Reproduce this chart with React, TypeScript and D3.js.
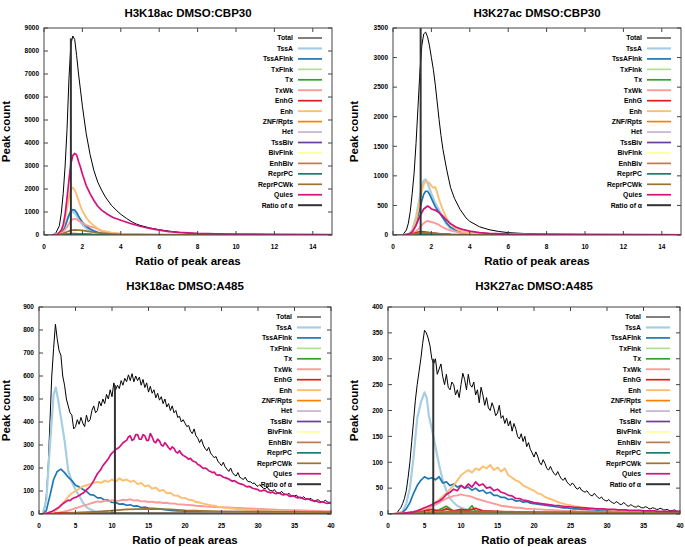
import React from "react";
import * as d3 from "d3";

type Pt = [number, number];

const seriesNames = ["Total", "TssA", "TssAFlnk", "TxFlnk", "Tx", "TxWk", "EnhG", "Enh", "ZNF/Rpts", "Het", "TssBiv", "BivFlnk", "EnhBiv", "ReprPC", "ReprPCWk", "Quies", "Ratio of  \u03b1"];
const seriesColors = ["#000000", "#a6cee3", "#1f78b4", "#b2df8a", "#33a02c", "#fb9a99", "#e31a1c", "#fdbf6f", "#ff7f00", "#cab2d6", "#6a3d9a", "#ffff99", "#c0784e", "#1b7b6e", "#9c7233", "#d4127f", "#333333"];
const seriesWidths = [1, 2.2, 1.7, 1.7, 1.7, 1.9, 1.7, 1.9, 1.7, 1.7, 1.7, 1.7, 1.7, 1.7, 1.7, 1.7, 2];

const panelTitles = ["H3K18ac DMSO:CBP30", "H3K27ac DMSO:CBP30", "H3K18ac DMSO:A485", "H3K27ac DMSO:A485"];
const xLabel = "Ratio of peak areas";
const yLabel = "Peak count";
const xMaxes = [15, 15, 40, 40];
const xTickSteps = [2, 2, 5, 5];
const xTickMax = [14, 14, 40, 40];
const yMaxes = [9000, 3500, 900, 400];
const yTickSteps = [1000, 500, 100, 50];
// Ratio of alpha vertical line: [x, height]
const alphaLines: Pt[] = [[1.4, 8550], [1.44, 3500], [10.4, 560], [6.2, 300]];
const bottomStep = 0.5;
const fineStep = 0.25;

// ---------- Panel 1: H3K18ac DMSO:CBP30 ----------
const p1Total: Pt[] = [[0,0],[0.4,0],[0.6,60],[0.8,400],[0.9,940],[1.0,1800],[1.1,3000],[1.2,4600],[1.3,6800],[1.4,8300],[1.5,8650],[1.6,8500],[1.7,7800],[1.8,7000],[1.9,6300],[2.0,5600],[2.2,4400],[2.4,3500],[2.6,2800],[2.8,2300],[3.0,1950],[3.2,1650],[3.5,1300],[3.8,1050],[4.0,900],[4.3,720],[4.6,560],[4.8,480],[5.0,420],[5.5,310],[6.0,230],[6.5,170],[7.0,120],[7.5,80],[8.0,55],[9,35],[10,25],[12,15],[15,10]];
const p1TssA: Pt[] = [[0.5,0],[0.8,50],[1.0,230],[1.1,420],[1.2,650],[1.3,860],[1.4,980],[1.5,1000],[1.6,960],[1.7,850],[1.8,700],[1.9,560],[2.0,450],[2.2,290],[2.4,190],[2.6,120],[2.8,80],[3.0,50],[3.5,20],[4,8],[15,1]];
const p1TssAFlnk: Pt[] = [[0.5,0],[0.8,40],[1.0,200],[1.1,380],[1.2,620],[1.3,870],[1.4,1050],[1.5,1100],[1.6,1080],[1.7,980],[1.8,820],[1.9,680],[2.0,560],[2.2,380],[2.4,260],[2.6,180],[2.8,120],[3.0,80],[3.5,35],[4,15],[5,5],[15,1]];
const p1TxFlnk: Pt[] = [[0.5,0],[1.2,20],[1.6,30],[2.2,15],[3,5],[15,0]];
const p1Tx: Pt[] = [[0.5,0],[1.2,20],[1.6,35],[2.2,20],[3,8],[15,0]];
const p1TxWk: Pt[] = [[0.5,0],[0.8,30],[1.0,130],[1.2,350],[1.4,620],[1.5,690],[1.6,700],[1.7,680],[1.8,620],[2.0,530],[2.2,430],[2.4,360],[2.6,330],[2.8,250],[3.0,170],[3.5,90],[4,50],[5,20],[6,10],[8,4],[15,1]];
const p1EnhG: Pt[] = [[0.5,0],[1.0,20],[1.4,60],[1.7,55],[2.0,40],[2.5,20],[3,10],[4,3],[15,0]];
const p1Enh: Pt[] = [[0.5,0],[0.8,80],[1.0,350],[1.1,700],[1.2,1150],[1.3,1650],[1.4,2000],[1.5,2050],[1.6,1950],[1.7,1750],[1.8,1500],[1.9,1250],[2.0,1050],[2.2,750],[2.4,550],[2.6,400],[2.8,280],[3.0,200],[3.5,100],[4.0,55],[5,25],[6,12],[8,5],[15,2]];
const p1Znf: Pt[] = [[0.5,0],[1.5,8],[2.5,4],[15,0]];
const p1Het: Pt[] = [[0.5,0],[1.5,15],[2.5,8],[4,3],[15,0]];
const p1TssBiv: Pt[] = [[0.5,0],[1.5,10],[2.5,4],[15,0]];
const p1BivFlnk: Pt[] = [[0.5,0],[1.5,15],[2.5,6],[15,0]];
const p1EnhBiv: Pt[] = [[0.5,0],[1.2,40],[1.6,60],[2.2,30],[3,10],[15,0]];
const p1ReprPC: Pt[] = [[0.5,0],[1.4,30],[1.8,35],[2.5,15],[4,4],[15,0]];
const p1ReprPCWk: Pt[] = [[0.5,0],[0.8,10],[1.0,60],[1.2,140],[1.4,200],[1.6,220],[1.8,215],[2.0,200],[2.3,160],[2.6,120],[3.0,80],[3.5,50],[4,30],[5,15],[6,8],[8,4],[15,1]];
const p1Quies: Pt[] = [[0.4,0],[0.7,30],[0.9,200],[1.0,450],[1.1,900],[1.2,1600],[1.3,2400],[1.4,3100],[1.5,3450],[1.6,3550],[1.7,3480],[1.8,3200],[1.9,2950],[2.0,2650],[2.2,2150],[2.4,1800],[2.6,1500],[2.8,1250],[3.0,1080],[3.3,900],[3.6,760],[4.0,640],[4.5,500],[5.0,380],[5.5,290],[6.0,210],[6.5,150],[7.0,115],[8,70],[9,50],[10,40],[12,30],[15,20]];

// ---------- Panel 2: H3K27ac DMSO:CBP30 ----------
const p2Total: Pt[] = [[0,0],[0.5,0],[0.7,85],[0.8,200],[0.9,400],[1.0,700],[1.1,1050],[1.2,1550],[1.3,2150],[1.4,2750],[1.5,3200],[1.6,3400],[1.7,3430],[1.8,3350],[1.9,3200],[2.0,3000],[2.1,2800],[2.2,2550],[2.3,2250],[2.4,1950],[2.5,1680],[2.6,1450],[2.8,1100],[3.0,800],[3.2,620],[3.5,430],[3.8,290],[4.0,230],[4.5,140],[5.0,90],[5.5,60],[6.0,40],[7,22],[8,14],[10,8],[15,4]];
const p2TssA: Pt[] = [[0.5,0],[0.8,10],[1.0,80],[1.2,300],[1.4,650],[1.5,820],[1.6,920],[1.7,940],[1.8,880],[1.9,790],[2.0,700],[2.2,540],[2.4,420],[2.6,290],[2.8,180],[3.0,110],[3.5,40],[4,15],[5,5],[15,1]];
const p2TssAFlnk: Pt[] = [[0.5,0],[0.8,10],[1.0,50],[1.2,200],[1.4,450],[1.5,580],[1.6,690],[1.7,740],[1.8,740],[1.9,690],[2.0,620],[2.2,480],[2.4,380],[2.6,290],[2.8,200],[3.0,130],[3.3,80],[3.6,50],[4,30],[5,10],[15,1]];
const p2TxFlnk: Pt[] = [[0.5,0],[1.5,10],[2,12],[3,4],[15,0]];
const p2Tx: Pt[] = [[0.5,0],[1.5,15],[2,15],[3,5],[15,0]];
const p2TxWk: Pt[] = [[0.5,0],[1.0,20],[1.2,60],[1.4,130],[1.6,200],[1.8,240],[2.0,220],[2.2,200],[2.4,170],[2.6,130],[2.8,100],[3.0,75],[3.5,40],[4,20],[5,8],[6.5,12],[7,4],[15,1]];
const p2EnhG: Pt[] = [[0.5,0],[1.0,15],[1.4,60],[1.6,55],[2.0,35],[2.5,15],[3,6],[4,2],[15,0]];
const p2Enh: Pt[] = [[0.5,0],[0.8,10],[1.0,60],[1.2,250],[1.4,580],[1.5,750],[1.6,860],[1.7,900],[1.8,900],[1.9,880],[2.0,830],[2.1,800],[2.2,810],[2.3,720],[2.4,600],[2.6,420],[2.8,280],[3.0,180],[3.3,100],[3.6,60],[4,35],[5,12],[6,5],[15,1]];
const p2Znf: Pt[] = [[0.5,0],[1.6,5],[3,2],[15,0]];
const p2Het: Pt[] = [[0.5,0],[1.7,8],[3,3],[15,0]];
const p2TssBiv: Pt[] = [[0.5,0],[1.7,6],[3,2],[15,0]];
const p2BivFlnk: Pt[] = [[0.5,0],[1.7,8],[3,2],[15,0]];
const p2EnhBiv: Pt[] = [[0.5,0],[1.5,25],[2,20],[3,6],[15,0]];
const p2ReprPC: Pt[] = [[0.5,0],[1.6,15],[2.5,8],[4,2],[15,0]];
const p2ReprPCWk: Pt[] = [[0.5,0],[1.0,10],[1.5,40],[2.0,35],[2.5,20],[3,10],[4,4],[15,0]];
const p2Quies: Pt[] = [[0.5,0],[0.8,10],[1.0,50],[1.2,160],[1.4,320],[1.6,440],[1.8,490],[1.9,470],[2.0,440],[2.2,420],[2.4,380],[2.6,320],[2.8,250],[3.0,190],[3.3,130],[3.6,95],[4,65],[4.5,40],[5,28],[6,15],[7,10],[10,6],[15,3]];

// ---------- Panel 3: H3K18ac DMSO:A485 ----------
// every 0.25
const p3Total = [
  0,0,0,20,80,200,400,600,
  720,825,760,710,690,600,560,500,
  470,440,430,370,380,410,390,420,
  395,380,430,400,410,450,470,440,
  450,490,470,500,480,520,500,540,
  510,570,540,560,545,580,560,590,
  575,605,580,610,575,600,580,595,
  560,585,550,570,530,555,525,540,
  505,525,495,510,480,500,465,480,
  450,470,440,450,420,425,400,410,
  395,380,385,360,350,370,340,330,
  310,325,300,285,275,290,265,255,
  245,250,230,220,210,225,205,195,
  185,200,180,170,165,180,160,155,
  150,160,145,140,140,132,135,125,
  120,128,118,112,110,118,105,102,
  100,106,95,92,92,98,88,85,
  85,90,80,78,78,82,74,70,
  70,75,68,65,65,68,60,58,
  60,62,55,52,55,60,52,50,
  52];
const p3Quies = [
  0,0,0,1,3,5,8,11,
  15,20,25,30,38,44,50,55,
  60,58,65,70,72,76,80,86,
  90,96,105,112,120,132,145,160,
  175,185,195,210,220,230,240,255,
  265,272,280,285,290,300,310,315,
  320,335,340,320,325,345,345,325,
  325,345,340,320,320,350,335,315,
  310,325,318,300,295,310,300,288,
  280,292,285,270,265,275,262,255,
  250,245,238,242,232,228,225,215,
  212,205,198,200,196,188,185,180,
  182,172,168,170,166,160,158,155,
  152,146,143,145,140,135,132,130,
  127,122,118,120,117,112,110,108,
  106,100,100,104,102,96,95,92,
  96,90,88,92,90,85,83,86,
  84,78,76,80,77,72,70,73,
  70,65,63,66,64,60,58,55,
  57,52,50,53,52,48,46,48,
  46];
// every 0.5
const p3TssAFlnk = [0,0,15,80,150,185,195,180,160,145, 125,118,108,98,84,82,70,70,60,60, 50,50,43,44,38,40,34,35,28,30, 26,25,24,22,20,18,16,15,14,13, 12,11,10,10,9,8,8,7,7,6, 6,6,5,5,5,5,5,4,4,4, 4,4,4,4,3,3,3,3,3,3, 3,3,3,3,3,3,3,3,3,3, 3];
const p3TxWk = [0,0,0,2,3,5,8,11,15,20, 25,30,35,40,45,50,55,52,58,55, 60,56,58,62,60,64,58,60,55,56, 52,54,50,51,48,49,45,46,42,42, 40,39,38,36,35,34,32,31,30,30, 29,28,28,27,26,26,25,24,24,23, 22,22,21,20,20,19,18,18,17,17, 16,16,15,15,14,14,13,13,12,12, 12];
const p3Enh = [0,0,2,5,10,20,35,55,75,90, 100,110,120,125,130,135,140,135,145,140, 150,140,155,145,150,140,145,130,135,120, 125,110,115,100,105,90,92,80,80,70, 70,62,60,52,50,45,42,38,36,32, 30,28,26,24,22,20,20,18,18,16, 15,14,14,13,12,12,11,10,10,9, 9,8,8,8,7,7,7,6,6,6, 6];
const p3TssA: Pt[] = [[0,0],[0.5,0],[1,60],[1.5,300],[2,520],[2.3,550],[2.6,500],[3,420],[3.5,320],[4,190],[4.5,140],[5,105],[5.5,80],[6,50],[6.5,30],[7,20],[7.5,14],[8,10],[9,6],[10,4],[12,3],[15,2],[20,1],[40,1]];
const p3EnhG: Pt[] = [[0,0],[1,2],[3,5],[6,6],[10,5],[15,4],[20,3],[30,2],[40,1]];
const p3ReprPCWk: Pt[] = [[0,0],[3,0],[5,5],[8,10],[10,15],[12,20],[15,22],[18,20],[20,16],[25,12],[30,10],[35,9],[40,8]];

// ---------- Panel 4: H3K27ac DMSO:A485 ----------
// every 0.25
const p4Total = [
  0,0,0,0,0,2,8,12,
  20,30,45,70,100,140,180,220,
  250,275,300,330,355,350,340,325,
  300,290,300,270,280,290,265,250,
  270,245,240,255,250,230,240,225,
  250,272,260,240,270,250,245,255,
  230,240,215,245,230,210,225,205,
  200,215,205,190,195,210,185,190,
  175,185,170,180,160,175,165,150,
  145,155,140,150,130,138,125,118,
  110,120,112,100,95,105,98,88,
  85,92,84,78,75,82,74,68,
  65,70,62,58,55,60,56,50,
  48,52,46,44,42,45,40,36,
  35,40,36,32,30,33,28,26,
  25,28,24,22,20,24,22,19,
  18,22,20,16,15,18,16,14,
  13,16,14,12,12,14,13,10,
  10,12,11,9,9,11,10,8,
  8,9,7,6,7,8,6,5,
  5];
// every 0.5
const p4TssAFlnk = [0,0,0,1,3,10,22,40,55,65, 72,68,70,66,72,60,62,55,58,52, 55,50,52,46,50,44,46,40,42,36, 36,32,32,28,29,25,26,23,24,21, 20,19,18,17,16,15,14,13,12,12, 11,10,10,9,9,8,8,8,7,7, 6,6,6,6,5,5,5,5,5,5, 4,4,4,4,4,4,3,3,3,3, 3];
const p4TxWk = [0,0,0,0,0,1,2,3,5,6, 8,10,15,18,22,26,30,32,35,36, 38,36,35,33,30,28,26,24,22,20, 18,16,15,14,13,12,12,11,10,10, 10,9,9,8,8,8,7,7,6,6, 6,6,5,5,5,5,5,4,4,4, 4,4,4,4,3,3,3,3,3,3, 3,3,3,2,2,2,2,2,2,2, 2];
const p4Enh = [0,0,0,1,1,2,3,4,6,8, 10,14,18,22,28,34,40,48,55,65, 75,80,85,80,88,85,92,88,95,85, 90,82,88,75,70,65,62,55,52,48, 45,40,38,33,30,28,25,22,20,18, 17,15,14,13,12,11,10,10,9,9, 8,8,7,7,6,6,5,5,5,5, 4,4,4,4,3,3,3,3,3,3, 3];
const p4Quies = [0,0,0,1,1,2,3,4,6,9, 12,15,18,22,25,30,38,42,48,45, 55,50,58,52,62,55,58,50,52,45, 48,42,40,36,35,30,30,27,26,24, 22,21,20,19,18,17,16,16,15,14, 14,13,13,12,12,11,11,10,10,10, 9,9,9,8,8,8,7,7,7,7, 6,6,6,6,5,5,5,5,5,5, 5];
const p4TssA: Pt[] = [[0,0],[1,0],[1.5,2],[2,5],[2.5,20],[3,50],[3.5,110],[4,185],[4.5,215],[5,235],[5.3,225],[5.6,190],[6,165],[6.5,130],[7,95],[7.5,65],[8,45],[8.5,30],[9,22],[9.5,16],[10,12],[11,8],[12,6],[13,4],[15,2],[20,1],[40,0]];
const p4Tx: Pt[] = [[0,0],[5,2],[7,8],[8,15],[9,5],[11,8],[11.5,16],[12,6],[15,4],[20,2],[40,1]];
const p4EnhG: Pt[] = [[0,0],[3,2],[5,6],[6,9],[7,5],[8,10],[9,6],[10,9],[11,7],[12,11],[13,6],[15,5],[20,3],[40,1]];
const p4ReprPCWk: Pt[] = [[0,0],[3,1],[8,3],[15,4],[25,3],[40,2]];

// ---------- tiny series shared by the A485 panels ----------
const lowTxFlnk: Pt[] = [[0,0],[2,1],[10,3],[20,2],[40,1]];
const lowTx: Pt[] = [[0,0],[3,1],[10,4],[20,2],[40,1]];
const lowZnf: Pt[] = [[0,0],[5,1],[15,2],[40,1]];
const lowHet: Pt[] = [[0,0],[5,1],[15,3],[40,2]];
const lowTssBiv: Pt[] = [[0,0],[3,1],[10,2],[40,1]];
const lowBivFlnk: Pt[] = [[0,0],[3,1],[10,2],[40,1]];
const lowEnhBiv: Pt[] = [[0,0],[3,2],[8,5],[15,4],[40,2]];
const lowReprPC: Pt[] = [[0,0],[3,1],[10,3],[40,1]];

const fromSteps = (vals: number[]): Pt[] => vals.map((v, i) => [i * bottomStep, v] as Pt);
const fromFine = (vals: number[]): Pt[] => vals.map((v, i) => [i * fineStep, v] as Pt);

const panelSeries: Pt[][][] = [
  [p1Total, p1TssA, p1TssAFlnk, p1TxFlnk, p1Tx, p1TxWk, p1EnhG, p1Enh, p1Znf, p1Het, p1TssBiv, p1BivFlnk, p1EnhBiv, p1ReprPC, p1ReprPCWk, p1Quies],
  [p2Total, p2TssA, p2TssAFlnk, p2TxFlnk, p2Tx, p2TxWk, p2EnhG, p2Enh, p2Znf, p2Het, p2TssBiv, p2BivFlnk, p2EnhBiv, p2ReprPC, p2ReprPCWk, p2Quies],
  [fromFine(p3Total), p3TssA, fromSteps(p3TssAFlnk), lowTxFlnk, lowTx, fromSteps(p3TxWk), p3EnhG, fromSteps(p3Enh), lowZnf, lowHet, lowTssBiv, lowBivFlnk, lowEnhBiv, lowReprPC, p3ReprPCWk, fromFine(p3Quies)],
  [fromFine(p4Total), p4TssA, fromSteps(p4TssAFlnk), lowTxFlnk, p4Tx, fromSteps(p4TxWk), p4EnhG, fromSteps(p4Enh), lowZnf, lowHet, lowTssBiv, lowBivFlnk, lowEnhBiv, lowReprPC, p4ReprPCWk, fromSteps(p4Quies)],
];

// layout of each panel (pixel frame)
const frames = [
  { left: 44, right: 332, top: 28, bottom: 235, titleY: 17, xLabY: 265, yLabX: 10 },
  { left: 393, right: 681, top: 28, bottom: 235, titleY: 17, xLabY: 265, yLabX: 358 },
  { left: 39, right: 331, top: 307, bottom: 514, titleY: 290, xLabY: 544, yLabX: 10 },
  { left: 388, right: 680, top: 307, bottom: 514, titleY: 290, xLabY: 544, yLabX: 358 },
];

const FONT = "'Liberation Sans', Arial, Helvetica, sans-serif";

function Panel({ idx }: { idx: number }) {
  const f = frames[idx];
  const x = d3.scaleLinear().domain([0, xMaxes[idx]]).range([f.left, f.right]);
  const y = d3.scaleLinear().domain([0, yMaxes[idx]]).range([f.bottom, f.top]);
  const line = d3.line<Pt>().x((d) => x(d[0])).y((d) => y(d[1]));
  const xTicks = d3.range(0, xTickMax[idx] + 0.001, xTickSteps[idx]);
  const yTicks = d3.range(0, yMaxes[idx] + 0.001, yTickSteps[idx]);
  const clipId = `clip${idx}`;
  const a = alphaLines[idx];
  const alphaPts: Pt[] = [[a[0], 0], [a[0], a[1]]];
  const tl = 4;
  const cx = (f.left + f.right) / 2;
  const cy = (f.top + f.bottom) / 2;
  const legX = f.right - 39;
  return (
    <g>
      <defs>
        <clipPath id={clipId}>
          <rect x={f.left} y={f.top} width={f.right - f.left} height={f.bottom - f.top} />
        </clipPath>
      </defs>
      <text x={cx} y={f.titleY} textAnchor="middle" fontSize={11.5} fontWeight="bold" fontFamily={FONT}>{panelTitles[idx]}</text>
      <g clipPath={`url(#${clipId})`}>
        {panelSeries[idx].map((s, i) => (
          <path key={i} d={line(s) || ""} fill="none" stroke={seriesColors[i]} strokeWidth={seriesWidths[i]} strokeLinejoin="round" />
        ))}
        <path d={line(alphaPts) || ""} fill="none" stroke={seriesColors[16]} strokeWidth={seriesWidths[16]} />
      </g>
      <rect x={f.left} y={f.top} width={f.right - f.left} height={f.bottom - f.top} fill="none" stroke="#444" strokeWidth={1} />
      {xTicks.map((t) => (
        <g key={"x" + t}>
          <line x1={x(t)} x2={x(t)} y1={f.bottom} y2={f.bottom - tl} stroke="#444" />
          <line x1={x(t)} x2={x(t)} y1={f.top} y2={f.top + tl} stroke="#444" />
          <text x={x(t)} y={f.bottom + 14} textAnchor="middle" fontSize={6.5} fontWeight="bold" fontFamily={FONT}>{t}</text>
        </g>
      ))}
      {yTicks.map((t) => (
        <g key={"y" + t}>
          <line x1={f.left} x2={f.left + tl} y1={y(t)} y2={y(t)} stroke="#444" />
          <line x1={f.right} x2={f.right - tl} y1={y(t)} y2={y(t)} stroke="#444" />
          <text x={f.left - 5} y={y(t) + 2.3} textAnchor="end" fontSize={6.5} fontWeight="bold" fontFamily={FONT}>{t}</text>
        </g>
      ))}
      <text x={cx} y={f.xLabY} textAnchor="middle" fontSize={11.5} fontWeight="bold" fontFamily={FONT}>{xLabel}</text>
      <text transform={`translate(${f.yLabX},${cy}) rotate(-90)`} textAnchor="middle" fontSize={11.5} fontWeight="bold" fontFamily={FONT}>{yLabel}</text>
      {seriesNames.map((n, i) => {
        const ly = f.top + 10 + i * 10.45;
        return (
          <g key={"l" + i}>
            <text x={legX} y={ly + 2.4} textAnchor="end" fontSize={6.8} fontWeight="bold" fontFamily={FONT}>{n}</text>
            <line x1={f.right - 34} x2={f.right - 10} y1={ly} y2={ly} stroke={seriesColors[i]} strokeWidth={seriesWidths[i]} />
          </g>
        );
      })}
    </g>
  );
}

export default function App() {
  return (
    <svg width={685} height={547} style={{ position: "absolute", left: 0, top: 0, background: "#fff" }}>
      <rect x={0} y={0} width={685} height={547} fill="#fff" />
      {[0, 1, 2, 3].map((i) => (
        <Panel key={i} idx={i} />
      ))}
    </svg>
  );
}
